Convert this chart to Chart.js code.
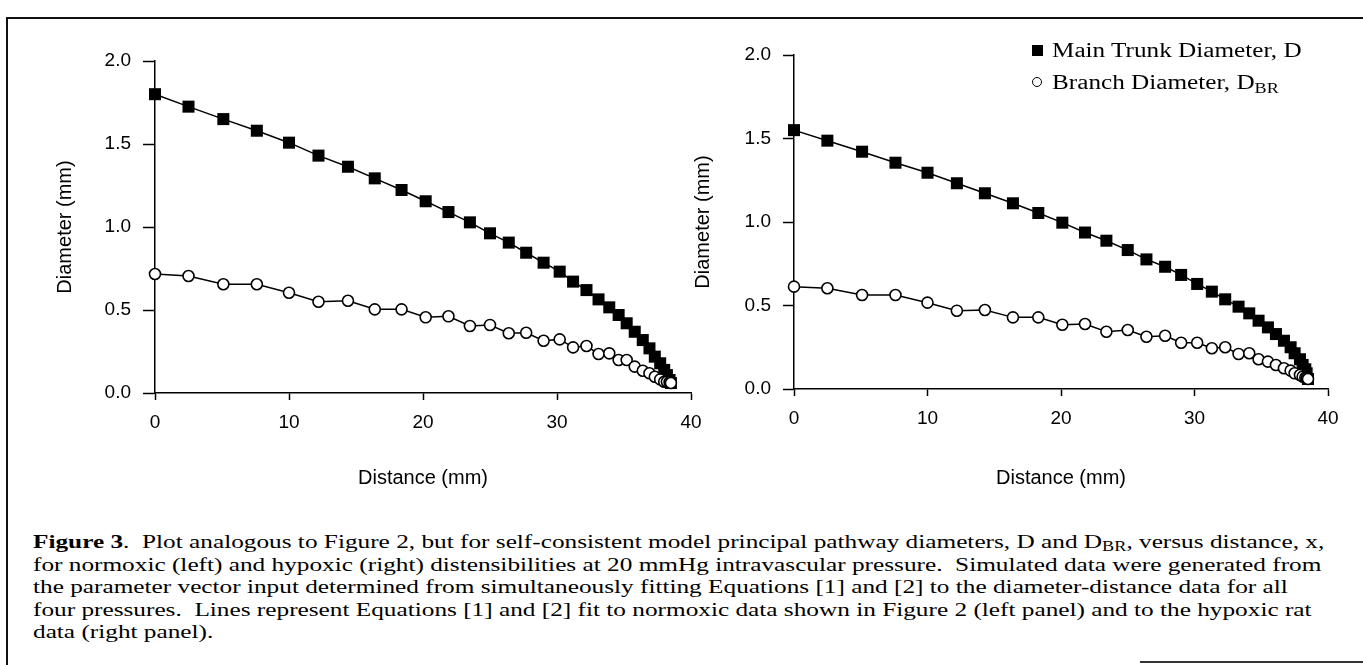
<!DOCTYPE html>
<html>
<head>
<meta charset="utf-8">
<script src="https://cdn.jsdelivr.net/npm/chart.js@4.4.0/dist/chart.umd.min.js"></script>
<style>
body { margin: 0; background: #fff; width: 1363px; height: 665px; overflow: hidden; position: relative; }
.frame { position: absolute; left: 6px; top: 17px; width: 1360px; height: 660px; border-top: 2px solid #111; border-left: 2px solid #111; }
.bottomline { position: absolute; left: 1140px; top: 661px; width: 223px; height: 2px; background: #333; }
#Grafica1 { position: absolute; left: 0; top: 0; }
#Grafica2 { position: absolute; left: 680px; top: 0; }
#legend { position: absolute; left: 1031px; top: 38px; font-family: "Liberation Serif", serif; font-size: 20px; color: #000; }
#legend .row { position: relative; height: 32px; }
#legend .sq { position: absolute; left: 1px; top: 7px; width: 11px; height: 11px; background: #000; }
#legend .ci { position: absolute; left: 1px; top: 7px; width: 8px; height: 8px; border: 1.5px solid #000; border-radius: 50%; }
#legend .txt { position: absolute; left: 21px; top: 0; white-space: nowrap; transform: scaleX(1.26); transform-origin: left center; line-height: 24px; }
sub { font-size: 0.72em; vertical-align: -0.25em; line-height: 0; }
#caption { position: absolute; left: 33px; top: 531px; font-family: "Liberation Serif", serif; font-size: 19px; line-height: 22.5px; color: #000; white-space: nowrap; transform: scaleX(1.33); transform-origin: left top; }
</style>
</head>
<body>
<div class="frame"></div>
<div class="bottomline"></div>
<canvas id="Grafica1" width="720" height="500"></canvas>
<canvas id="Grafica2" width="683" height="500"></canvas>
<div id="legend">
  <div class="row"><span class="sq"></span><span class="txt">Main Trunk Diameter, D</span></div>
  <div class="row"><span class="ci"></span><span class="txt">Branch Diameter, D<sub>BR</sub></span></div>
</div>
<div id="caption"><b>Figure 3</b>.&nbsp; Plot analogous to Figure 2, but for self-consistent model principal pathway diameters, D and D<sub>BR</sub>, versus distance, x,<br>for normoxic (left) and hypoxic (right) distensibilities at 20 mmHg intravascular pressure.&nbsp; Simulated data were generated from<br>the parameter vector input determined from simultaneously fitting Equations [1] and [2] to the diameter-distance data for all<br>four pressures.&nbsp; Lines represent Equations [1] and [2] fit to normoxic data shown in Figure 2 (left panel) and to the hypoxic rat<br>data (right panel).</div>
<script>
// left panel: normoxic
let dist_left   = [0, 2.5, 5.1, 7.6, 10.0, 12.2, 14.4, 16.4, 18.4, 20.2, 21.9, 23.5, 25.0, 26.4, 27.7, 29.0, 30.2, 31.2, 32.2, 33.1, 33.9, 34.6, 35.2, 35.8, 36.4, 36.9, 37.3, 37.7, 38.0, 38.2, 38.4, 38.5];
let trunk_left  = [1.80, 1.725, 1.65, 1.58, 1.508, 1.43, 1.363, 1.293, 1.223, 1.155, 1.09, 1.028, 0.962, 0.906, 0.845, 0.785, 0.731, 0.671, 0.620, 0.564, 0.516, 0.470, 0.420, 0.369, 0.319, 0.269, 0.219, 0.179, 0.139, 0.108, 0.078, 0.06];
let branch_left = [0.717, 0.705, 0.655, 0.655, 0.604, 0.550, 0.556, 0.504, 0.504, 0.456, 0.462, 0.404, 0.41, 0.36, 0.363, 0.315, 0.323, 0.275, 0.283, 0.235, 0.239, 0.199, 0.199, 0.159, 0.134, 0.119, 0.098, 0.082, 0.068, 0.068, 0.065, 0.06];

// right panel: hypoxic
let dist_right   = [0, 2.5, 5.1, 7.6, 10.0, 12.2, 14.3, 16.4, 18.3, 20.1, 21.8, 23.4, 25.0, 26.4, 27.8, 29.0, 30.2, 31.3, 32.3, 33.3, 34.1, 34.8, 35.5, 36.1, 36.7, 37.2, 37.5, 37.9, 38.1, 38.3, 38.4, 38.5];
let trunk_right  = [1.55, 1.487, 1.421, 1.355, 1.295, 1.232, 1.172, 1.112, 1.054, 0.996, 0.937, 0.888, 0.832, 0.776, 0.732, 0.683, 0.629, 0.583, 0.537, 0.493, 0.453, 0.409, 0.369, 0.329, 0.289, 0.25, 0.214, 0.178, 0.144, 0.118, 0.094, 0.06];
let branch_right = [0.613, 0.603, 0.563, 0.563, 0.517, 0.469, 0.473, 0.429, 0.429, 0.385, 0.389, 0.343, 0.353, 0.313, 0.319, 0.277, 0.277, 0.244, 0.250, 0.210, 0.214, 0.178, 0.164, 0.144, 0.124, 0.110, 0.094, 0.084, 0.074, 0.068, 0.064, 0.06];

let x_ticks = [0, 10, 20, 30, 40];
let y_ticks = [0, 0.5, 1.0, 1.5, 2.0];

function pts(xs, ys) {
	return xs.map((x, i) => ({ x: x, y: ys[i] }));
}

function datasets(xs, trunk, branch) {
	// branch first so the open circles sit on top of the squares
	return [
		{
			label: "Branch Diameter, DBR",
			data: pts(xs, branch),
			showLine: true,
			borderColor: "#000",
			borderWidth: 1.5,
			pointStyle: "circle",
			pointRadius: 5.5,
			pointBorderWidth: 1.6,
			pointBackgroundColor: "#fff",
			pointBorderColor: "#000",
			clip: false,
		},
		{
			label: "Main Trunk Diameter, D",
			data: pts(xs, trunk),
			showLine: true,
			borderColor: "#000",
			borderWidth: 1.5,
			pointStyle: "rect",
			pointRadius: 8.5,
			pointBorderWidth: 0,
			pointBackgroundColor: "#000",
			pointBorderColor: "#000",
			clip: false,
		},
	];
}

function options(pad, yWidth, xHeight, yTick) {
	return {
		responsive: false,
		animation: false,
		layout: { padding: pad },
		plugins: { legend: { display: false }, tooltip: { enabled: false } },
		scales: {
			x: {
				type: "linear",
				min: 0,
				max: 40,
				afterFit: function (scale) { scale.height = xHeight; },
				afterBuildTicks: function (scale) { scale.ticks = x_ticks.map(v => ({ value: v })); },
				grid: { drawOnChartArea: false, drawTicks: true, tickLength: 7, tickWidth: 1.5, tickColor: "#000" },
				border: { display: true, color: "#000", width: 1.5 },
				ticks: {
					color: "#000",
					padding: 11,
					maxRotation: 0,
					font: { family: "Liberation Sans", size: 19 },
				},
				title: {
					display: true,
					text: "Distance (mm)",
					color: "#000",
					padding: 0,
					font: { family: "Liberation Sans", size: 20 },
				},
			},
			y: {
				min: 0,
				max: 2,
				afterFit: function (scale) { scale.width = yWidth; },
				afterBuildTicks: function (scale) { scale.ticks = y_ticks.map(v => ({ value: v })); },
				grid: { drawOnChartArea: false, drawTicks: true, tickLength: yTick, tickWidth: 1.5, tickColor: "#000" },
				border: { display: true, color: "#000", width: 1.5 },
				ticks: {
					color: "#000",
					padding: 12,
					font: { family: "Liberation Sans", size: 19 },
					callback: function (v) { return Number(v).toFixed(1); },
				},
				title: {
					display: true,
					text: "Diameter (mm)",
					color: "#000",
					padding: 0,
					font: { family: "Liberation Sans", size: 20 },
				},
			},
		},
	};
}

const ctx = document.getElementById("Grafica1").getContext("2d");
let Grafica1 = new Chart(ctx, {
	type: "scatter",
	data: { datasets: datasets(dist_left, trunk_left, branch_left) },
	options: options({ left: 53, top: 61, right: 29, bottom: 10 }, 102, 97, 12),
});

const ctz = document.getElementById("Grafica2").getContext("2d");
let Grafica2 = new Chart(ctz, {
	type: "scatter",
	data: { datasets: datasets(dist_right, trunk_right, branch_right) },
	options: options({ left: 11, top: 55, right: 35, bottom: 10 }, 103, 101, 11),
});
</script>
</body>
</html>
